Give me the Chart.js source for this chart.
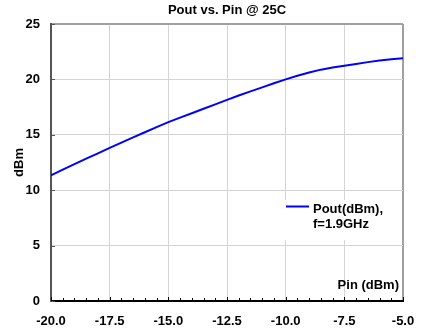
<!DOCTYPE html>
<html>
<head>
<meta charset="utf-8">
<script src="https://cdn.jsdelivr.net/npm/chart.js@4/dist/chart.umd.min.js"></script>
<style>
  html, body { margin: 0; padding: 0; background: #fff; }
  #wrap { width: 429px; height: 333px; }
</style>
</head>
<body>
<div id="wrap"><canvas id="c" width="429" height="333"></canvas></div>
<script>
// ---- data ----
const pinDbm  = [-20, -19.5, -19, -18.5, -18, -17.5, -17, -16.5, -16, -15.5, -15, -14.5, -14, -13.5, -13, -12.5, -12, -11.5, -11, -10.5, -10, -9.5, -9, -8.5, -8, -7.5, -7, -6.5, -6, -5.5, -5];
const poutDbm = [11.35, 11.85, 12.35, 12.85, 13.33, 13.82, 14.3, 14.77, 15.23, 15.7, 16.15, 16.55, 16.95, 17.35, 17.75, 18.15, 18.55, 18.92, 19.28, 19.65, 20.0, 20.33, 20.63, 20.88, 21.07, 21.23, 21.4, 21.56, 21.7, 21.82, 21.9];
const xTickValues = [-20.0, -17.5, -15.0, -12.5, -10.0, -7.5, -5.0];
const yTickValues = [0, 5, 10, 15, 20, 25];
const seriesLabel = 'Pout(dBm),\nf=1.9GHz';
const chartTitle = 'Pout vs. Pin @ 25C';
const xAxisTitle = 'Pin (dBm)';
const yAxisTitle = 'dBm';

const FONT = "Arial, 'Liberation Sans', sans-serif";

const extras = {
  id: 'extras',
  afterDraw(chart) {
    const ctx = chart.ctx;
    const ca = chart.chartArea;
    const xs = chart.scales.x, ys = chart.scales.y;
    ctx.save();
    // minor ticks on bottom axis (inside)
    ctx.strokeStyle = '#000';
    ctx.lineWidth = 1;
    for (let v = -20; v <= -5 + 1e-9; v += 0.5) {
      const px = Math.round(xs.getPixelForValue(v)) + 0.5;
      const major = Math.abs((v / 2.5) - Math.round(v / 2.5)) < 1e-6;
      ctx.beginPath();
      ctx.moveTo(px, ca.bottom);
      ctx.lineTo(px, ca.bottom - (major ? 4 : 3));
      ctx.stroke();
    }
    // y ticks (inside)
    ctx.strokeStyle = '#555';
    yTickValues.forEach(v => {
      const py = Math.round(ys.getPixelForValue(v)) + 0.5;
      ctx.beginPath();
      ctx.moveTo(ca.left, py);
      ctx.lineTo(ca.left + 4, py);
      ctx.stroke();
    });
    // x axis title inside plot
    ctx.font = 'bold 13px ' + FONT;
    ctx.fillStyle = '#000';
    ctx.textAlign = 'right';
    ctx.textBaseline = 'middle';
    ctx.fillText(xAxisTitle, ca.right - 4, ca.bottom - 16);
    // legend inside plot
    const ds = chart.data.datasets[0];
    const lines = ds.label.split('\n');
    const bx = ca.left + 231, by = ca.top + 176;
    ctx.fillStyle = '#fff';
    ctx.fillRect(bx, by, 110, 40);
    ctx.strokeStyle = ds.borderColor;
    ctx.lineWidth = 2;
    ctx.beginPath();
    ctx.moveTo(bx + 4, by + 6.5);
    ctx.lineTo(bx + 27, by + 6.5);
    ctx.stroke();
    ctx.fillStyle = '#000';
    ctx.textAlign = 'left';
    lines.forEach((t, i) => ctx.fillText(t, bx + 31, by + 9 + i * 15));
    ctx.restore();
  }
};

new Chart(document.getElementById('c'), {
  type: 'line',
  data: {
    datasets: [{
      label: seriesLabel,
      data: pinDbm.map((x, i) => ({ x: x, y: poutDbm[i] })),
      borderColor: '#0000ff',
      borderWidth: 2,
      pointRadius: 0,
      fill: false,
      tension: 0
    }]
  },
  options: {
    responsive: false,
    animation: false,
    devicePixelRatio: 1,
    layout: { padding: { left: 0, right: 26, top: 0, bottom: 0 } },
    plugins: {
      legend: { display: false },
      tooltip: { enabled: false },
      title: {
        display: true,
        fullSize: false,
        text: chartTitle,
        color: '#000',
        font: { family: FONT, size: 13, weight: 'bold', lineHeight: 1.2 },
        padding: { top: 3, bottom: 5.4 }
      }
    },
    scales: {
      x: {
        type: 'linear',
        min: -20, max: -5,
        afterBuildTicks: s => { s.ticks = xTickValues.map(v => ({ value: v })); },
        afterFit: s => { s.height = 32; },
        ticks: {
          color: '#000',
          font: { family: FONT, size: 13, weight: 'bold', lineHeight: 1.2 },
          padding: 13,
          maxRotation: 0,
          autoSkip: false,
          callback: v => Number(v).toFixed(1)
        },
        grid: {
          drawTicks: false,
          color: c => (c.tick && c.tick.value === -5) ? '#a0a0a0' : '#d4d4d4',
          lineWidth: c => (c.tick && c.tick.value === -5) ? 2 : 1
        },
        border: { display: true, color: '#000', width: 2 }
      },
      y: {
        min: 0, max: 25,
        afterBuildTicks: s => { s.ticks = yTickValues.map(v => ({ value: v })); },
        afterFit: s => { s.width = 51; },
        ticks: {
          color: '#000',
          font: { family: FONT, size: 13, weight: 'bold', lineHeight: 1.2 },
          padding: 11
        },
        grid: {
          drawTicks: false,
          color: c => (c.tick && c.tick.value === 25) ? '#a0a0a0' : '#d4d4d4',
          lineWidth: c => (c.tick && c.tick.value === 25) ? 2 : 1
        },
        border: { display: true, color: '#555', width: 2 },
        title: {
          display: true,
          text: yAxisTitle,
          color: '#000',
          font: { family: FONT, size: 13, weight: 'bold', lineHeight: 1.2 },
          padding: { top: 12, bottom: 0 }
        }
      }
    }
  },
  plugins: [extras]
});
</script>
</body>
</html>
